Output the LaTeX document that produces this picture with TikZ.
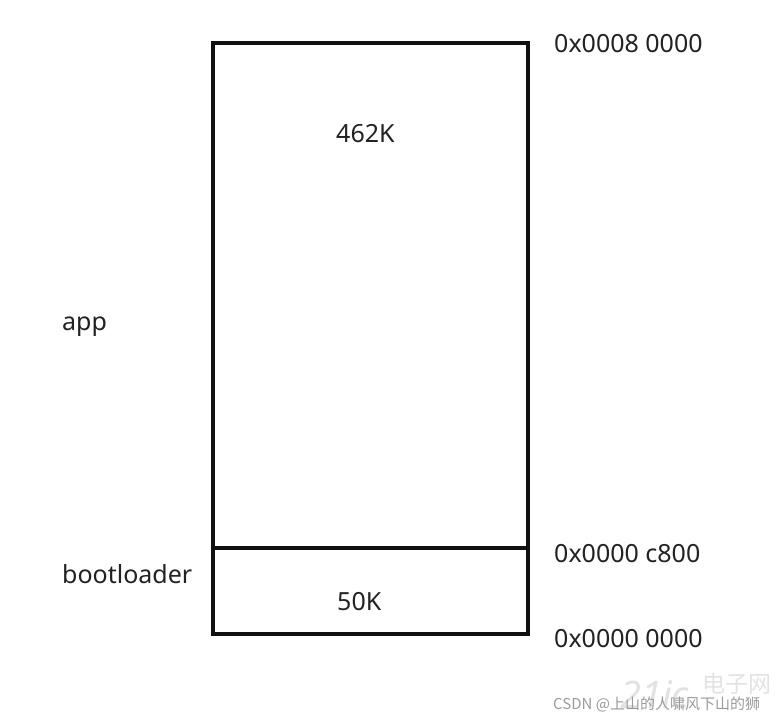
\documentclass[tikz,border=0pt]{standalone}
\usepackage{fontspec}
\setmainfont{Noto Sans}
\newfontfamily\cjk{Noto Sans CJK SC}
\usetikzlibrary{positioning}
\definecolor{mblack}{HTML}{111111}
\definecolor{mtext}{HTML}{222222}
\definecolor{mmark}{HTML}{9A9A9A}
\definecolor{mlogo}{HTML}{E2E2E2}

\tikzset{
	region/.style = {draw = mblack, line width = 3.8pt, minimum width = 315pt, inner sep = 0pt},
	label/.style = {text = mtext, font = \fontsize{25}{28}\selectfont, inner sep = 0pt, anchor = base west}
}

\begin{document}
\begin{tikzpicture}[x = 1pt, y = -1pt]
	\useasboundingbox (0,0) rectangle (781,720);
	% memory map
	\node[region, minimum height = 505pt] (app) at (370.5,295.5) {};
	\node[region, minimum height = 86pt] (boot) at (370.5,591) {};
	\node[label] (appsize) at (336,142) {462K};
	\node[label] (bootsize) at (337,610) {50K};
	% names
	\node[label] (appname) at (62,330) {app};
	\node[label] (bootname) at (62,583) {bootloader};
	% addresses
	\node[label] (top) at (554,52) {0x0008 0000};
	\node[label] (mid) at (554,562) {0x0000 c800};
	\node[label] (low) at (554,647) {0x0000 0000};
	% watermark
	\node[text = mlogo, font = \fontsize{38}{38}\selectfont\bfseries\itshape, inner sep = 0pt, anchor = base west] (logo) at (620,708) {21ic};
	\node[text = mlogo, font = \cjk\fontsize{23}{23}\selectfont, inner sep = 0pt, anchor = base west] (logocn) at (702,692) {电子网};
	\node[text = mmark, font = \cjk\fontsize{15}{15}\selectfont, inner sep = 0pt, anchor = base west] (mark) at (553,709) {CSDN @上山的人啸风下山的狮};
\end{tikzpicture}
\end{document}
